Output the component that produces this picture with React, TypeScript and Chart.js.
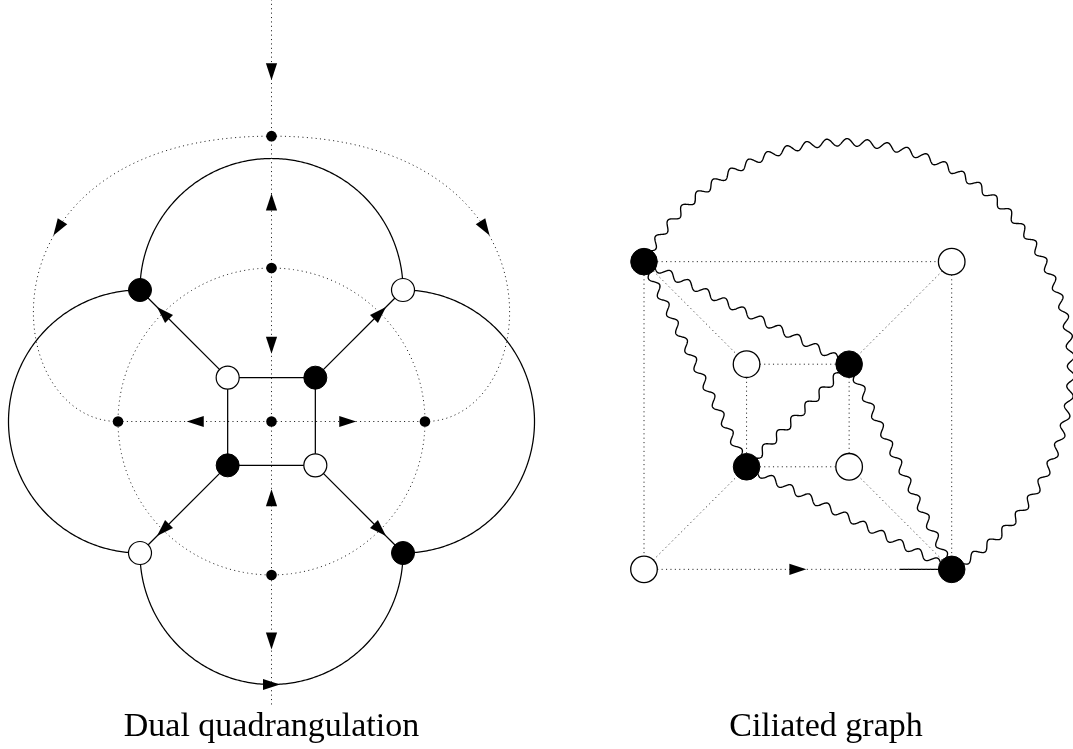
import React, { useEffect, useRef } from "react";
import { Chart, registerables } from "chart.js";

Chart.register(...registerables);

type P = [number, number];

// ================= DATA =================
// Left figure "Dual quadrangulation" — units: outer vertex offset = 1
const leftBlackNodes: P[] = [[-1, 1], [1 / 3, 1 / 3], [-1 / 3, -1 / 3], [1, -1]];
const leftWhiteNodes: P[] = [[1, 1], [-1 / 3, 1 / 3], [1 / 3, -1 / 3], [-1, -1]];
const leftDualDots: P[] = [[0, 2.17], [0, 1.167], [-1.167, 0], [0, 0], [1.167, 0], [0, -1.167]];
const leftSolidEdges: P[][] = [
  [[-1 / 3, 1 / 3], [1 / 3, 1 / 3]],
  [[1 / 3, 1 / 3], [1 / 3, -1 / 3]],
  [[1 / 3, -1 / 3], [-1 / 3, -1 / 3]],
  [[-1 / 3, -1 / 3], [-1 / 3, 1 / 3]],
  [[-1 / 3, 1 / 3], [-1, 1]],
  [[1 / 3, 1 / 3], [1, 1]],
  [[-1 / 3, -1 / 3], [-1, -1]],
  [[1 / 3, -1 / 3], [1, -1]],
];
// [cx, cy, r, startDeg, endDeg]
const leftSolidArcs: number[][] = [
  [0, 1, 1, 180, 0],
  [-1, 0, 1, 90, 270],
  [1, 0, 1, 90, -90],
  [0, -1, 1, 180, 360],
];
const leftDottedLines: P[][] = [
  [[0, 3.21], [0, -2.156]],
  [[-1.167, 0], [1.167, 0]],
];
const leftDottedCircles: number[][] = [[0, 0, 1.167]];
const leftDottedBeziers: P[][] = [
  [[0, 2.17], [-2.285, 2.17], [-2.08, 0], [-1.167, 0]],
  [[0, 2.17], [2.285, 2.17], [2.08, 0], [1.167, 0]],
];
// [x, y, dirX, dirY]
const leftLineArrows: number[][] = [
  [0, 2.66, 0, -1],
  [0, 1.67, 0, 1],
  [0, 0.58, 0, -1],
  [0, -0.58, 0, 1],
  [0, -1.67, 0, -1],
  [-0.58, 0, -1, 0],
  [0.58, 0, 1, 0],
  [-0.825, 0.825, -1, 1],
  [0.825, 0.825, 1, 1],
  [-0.825, -0.825, -1, -1],
  [0.825, -0.825, 1, -1],
  [0, -2, 1, 0],
];
const leftBezierArrowT: number[] = [0.38, 0.38];

// Right figure "Ciliated graph" — units: outer square half side = 1
const rightBlackNodes: P[] = [[-1, 1], [1 / 3, 1 / 3], [-1 / 3, -1 / 3], [1, -1]];
const rightWhiteNodes: P[] = [[1, 1], [-1 / 3, 1 / 3], [1 / 3, -1 / 3], [-1, -1]];
const rightDottedEdges: P[][] = [
  [[-1, 1], [1, 1]],
  [[-1, 1], [-1, -1]],
  [[1, 1], [1, -1]],
  [[-1, -1], [1, -1]],
  [[-1 / 3, 1 / 3], [1 / 3, 1 / 3]],
  [[-1 / 3, 1 / 3], [-1 / 3, -1 / 3]],
  [[1 / 3, 1 / 3], [1 / 3, -1 / 3]],
  [[-1 / 3, -1 / 3], [1 / 3, -1 / 3]],
  [[-1, 1], [-1 / 3, 1 / 3]],
  [[1, 1], [1 / 3, 1 / 3]],
  [[-1, -1], [-1 / 3, -1 / 3]],
  [[1, -1], [1 / 3, -1 / 3]],
];
const rightWavyEdges: P[][] = [
  [[-1, 1], [1 / 3, 1 / 3]],
  [[-1, 1], [-1 / 3, -1 / 3]],
  [[1 / 3, 1 / 3], [-1 / 3, -1 / 3]],
  [[1 / 3, 1 / 3], [1, -1]],
  [[-1 / 3, -1 / 3], [1, -1]],
];
// [cx, cy, r, startDeg, endDeg]
const rightWavyArcs: number[][] = [[0.3, 0.3, 1.476, 151.7, -61.7]];
const rightSolidEdges: P[][] = [[[0.664, -1], [1, -1]]];
const rightLineArrows: number[][] = [[0, -1, 1, 0]];

const captions: string[] = ["Dual quadrangulation", "Ciliated graph"];

// ================= LAYOUT / STYLE =================
const W = 1073;
const H = 749;
const LEFT_ORIGIN: P = [271.5, 421.5];
const LEFT_UNIT = 131.5;
const RIGHT_ORIGIN: P = [797.85, 415.5];
const RIGHT_UNIT = 153.85;
const CAPTION_X = [271.5, 826];
const CAPTION_TOP = 707.5;

const DOT_COLOR = "#262626";
const DOT_DASH = [1.1, 3.3];
const SOLID_W = 1.25;
const LEFT_NODE_R = 11.5;
const LEFT_DOT_R = 5.3;
const RIGHT_NODE_R = 13.3;
const WAVE_AMP = 3.7;
const WAVE_PERIOD = 20;
const ARROW_LEN = 17;
const ARROW_HALF_W = 5.6;

const pts = (arr: P[]) => arr.map(([x, y]) => ({ x, y }));

function nodeDataset(arr: P[], side: string, fill: string, radius: number, border: number) {
  return {
    data: pts(arr),
    xAxisID: "x" + side,
    yAxisID: "y" + side,
    showLine: false,
    pointRadius: radius,
    pointHoverRadius: radius,
    pointBackgroundColor: fill,
    pointBorderColor: "#000",
    pointBorderWidth: border,
    order: 1,
  };
}

function edgeDataset(seg: P[], side: string, dotted: boolean) {
  return {
    data: pts(seg),
    xAxisID: "x" + side,
    yAxisID: "y" + side,
    showLine: true,
    pointRadius: 0,
    pointHoverRadius: 0,
    borderColor: dotted ? DOT_COLOR : "#000",
    borderWidth: dotted ? 1 : SOLID_W,
    borderDash: dotted ? DOT_DASH : [],
    fill: false,
    tension: 0,
    order: 5,
  };
}

function arcPoints(map: (x: number, y: number) => number[], cx: number, cy: number, r: number, a0: number, a1: number, n: number) {
  const out: number[][] = [];
  for (let i = 0; i <= n; i++) {
    const a = ((a0 + ((a1 - a0) * i) / n) * Math.PI) / 180;
    out.push(map(cx + r * Math.cos(a), cy + r * Math.sin(a)));
  }
  return out;
}

function strokePolyline(ctx: CanvasRenderingContext2D, p: number[][]) {
  ctx.beginPath();
  ctx.moveTo(p[0][0], p[0][1]);
  for (let i = 1; i < p.length; i++) ctx.lineTo(p[i][0], p[i][1]);
  ctx.stroke();
}

function wavy(ctx: CanvasRenderingContext2D, path: number[][], trim: number, amp: number, period: number) {
  const cum = [0];
  for (let i = 1; i < path.length; i++) {
    cum.push(cum[i - 1] + Math.hypot(path[i][0] - path[i - 1][0], path[i][1] - path[i - 1][1]));
  }
  const total = cum[cum.length - 1];
  const s0 = trim;
  const len = total - 2 * trim;
  if (len <= 0) return;
  const waves = Math.max(1, Math.round(len / period));
  const lam = len / waves;
  const steps = Math.ceil(len / 0.5);
  let seg = 0;
  ctx.beginPath();
  for (let k = 0; k <= steps; k++) {
    const s = s0 + (len * k) / steps;
    while (seg < path.length - 2 && cum[seg + 1] < s) seg++;
    const [x0, y0] = path[seg];
    const [x1, y1] = path[seg + 1];
    const sl = cum[seg + 1] - cum[seg] || 1;
    const u = (s - cum[seg]) / sl;
    const ux = (x1 - x0) / sl;
    const uy = (y1 - y0) / sl;
    const off = amp * Math.sin((2 * Math.PI * (s - s0)) / lam);
    const px = x0 + (x1 - x0) * u - uy * off;
    const py = y0 + (y1 - y0) * u + ux * off;
    if (k === 0) ctx.moveTo(px, py);
    else ctx.lineTo(px, py);
  }
  ctx.stroke();
}

function arrowHead(ctx: CanvasRenderingContext2D, x: number, y: number, dx: number, dy: number) {
  const n = Math.hypot(dx, dy) || 1;
  const ux = dx / n;
  const uy = dy / n;
  const vx = -uy;
  const vy = ux;
  const tx = x + (ux * ARROW_LEN) / 2;
  const ty = y + (uy * ARROW_LEN) / 2;
  const bx = x - (ux * ARROW_LEN) / 2;
  const by = y - (uy * ARROW_LEN) / 2;
  ctx.beginPath();
  ctx.moveTo(tx, ty);
  ctx.lineTo(bx + vx * ARROW_HALF_W, by + vy * ARROW_HALF_W);
  ctx.lineTo(bx - vx * ARROW_HALF_W, by - vy * ARROW_HALF_W);
  ctx.closePath();
  ctx.fill();
}

function mappers(chart: any) {
  const L = (x: number, y: number) => [chart.scales.xL.getPixelForValue(x), chart.scales.yL.getPixelForValue(y)];
  const R = (x: number, y: number) => [chart.scales.xR.getPixelForValue(x), chart.scales.yR.getPixelForValue(y)];
  return { L, R };
}

const diagramPlugin = {
  id: "diagram",
  beforeDatasetsDraw(chart: any) {
    const ctx: CanvasRenderingContext2D = chart.ctx;
    const { L, R } = mappers(chart);
    ctx.save();
    // solid semicircles
    ctx.strokeStyle = "#000";
    ctx.lineWidth = SOLID_W;
    ctx.setLineDash([]);
    for (const [cx, cy, r, a0, a1] of leftSolidArcs) strokePolyline(ctx, arcPoints(L, cx, cy, r, a0, a1, 240));
    // dotted circle and curves
    ctx.strokeStyle = DOT_COLOR;
    ctx.lineWidth = 1;
    ctx.setLineDash(DOT_DASH);
    for (const [cx, cy, r] of leftDottedCircles) strokePolyline(ctx, arcPoints(L, cx, cy, r, 90, 450, 480));
    for (const b of leftDottedBeziers) {
      const q = b.map(([x, y]) => L(x, y));
      ctx.beginPath();
      ctx.moveTo(q[0][0], q[0][1]);
      ctx.bezierCurveTo(q[1][0], q[1][1], q[2][0], q[2][1], q[3][0], q[3][1]);
      ctx.stroke();
    }
    // wavy edges
    ctx.setLineDash([]);
    ctx.strokeStyle = "#000";
    ctx.lineWidth = 1.35;
    for (const [a, b] of rightWavyEdges) wavy(ctx, [R(a[0], a[1]), R(b[0], b[1])], RIGHT_NODE_R - 1, WAVE_AMP, WAVE_PERIOD);
    for (const [cx, cy, r, a0, a1] of rightWavyArcs) {
      wavy(ctx, arcPoints(R, cx, cy, r, a0, a1, 800), RIGHT_NODE_R - 1, WAVE_AMP, WAVE_PERIOD);
    }
    ctx.restore();
  },
  afterDatasetsDraw(chart: any) {
    const ctx: CanvasRenderingContext2D = chart.ctx;
    const { L, R } = mappers(chart);
    ctx.save();
    ctx.fillStyle = "#000";
    const lineArrow = (map: (x: number, y: number) => number[], a: number[]) => {
      const p = map(a[0], a[1]);
      const q = map(a[0] + a[2] * 0.01, a[1] + a[3] * 0.01);
      arrowHead(ctx, p[0], p[1], q[0] - p[0], q[1] - p[1]);
    };
    for (const a of leftLineArrows) lineArrow(L, a);
    for (const a of rightLineArrows) lineArrow(R, a);
    leftDottedBeziers.forEach((b, i) => {
      const t = leftBezierArrowT[i];
      const q = b.map(([x, y]) => L(x, y));
      const mt = 1 - t;
      const x = mt * mt * mt * q[0][0] + 3 * mt * mt * t * q[1][0] + 3 * mt * t * t * q[2][0] + t * t * t * q[3][0];
      const y = mt * mt * mt * q[0][1] + 3 * mt * mt * t * q[1][1] + 3 * mt * t * t * q[2][1] + t * t * t * q[3][1];
      const dx = 3 * mt * mt * (q[1][0] - q[0][0]) + 6 * mt * t * (q[2][0] - q[1][0]) + 3 * t * t * (q[3][0] - q[2][0]);
      const dy = 3 * mt * mt * (q[1][1] - q[0][1]) + 6 * mt * t * (q[2][1] - q[1][1]) + 3 * t * t * (q[3][1] - q[2][1]);
      arrowHead(ctx, x, y, dx, dy);
    });
    ctx.restore();
  },
};

export default function App() {
  const ref = useRef<HTMLCanvasElement>(null);

  useEffect(() => {
    if (!ref.current) return;
    const datasets: any[] = [
      nodeDataset(leftBlackNodes, "L", "#000", LEFT_NODE_R, 1),
      nodeDataset(leftWhiteNodes, "L", "#fff", LEFT_NODE_R, 1.2),
      nodeDataset(leftDualDots, "L", "#000", LEFT_DOT_R, 0),
      nodeDataset(rightBlackNodes, "R", "#000", RIGHT_NODE_R, 1),
      nodeDataset(rightWhiteNodes, "R", "#fff", RIGHT_NODE_R, 1.3),
      ...leftSolidEdges.map((s) => edgeDataset(s, "L", false)),
      ...leftDottedLines.map((s) => edgeDataset(s, "L", true)),
      ...rightDottedEdges.map((s) => edgeDataset(s, "R", true)),
      ...rightSolidEdges.map((s) => edgeDataset(s, "R", false)),
    ];
    const chart = new Chart(ref.current, {
      type: "scatter",
      data: { datasets },
      options: {
        responsive: false,
        animation: false,
        events: [],
        layout: { padding: 0, autoPadding: false },
        plugins: { legend: { display: false }, tooltip: { enabled: false }, title: { display: false } },
        scales: {
          xL: {
            type: "linear",
            axis: "x",
            position: "bottom",
            display: false,
            min: -LEFT_ORIGIN[0] / LEFT_UNIT,
            max: (W - LEFT_ORIGIN[0]) / LEFT_UNIT,
          },
          yL: {
            type: "linear",
            axis: "y",
            position: "left",
            display: false,
            min: -(H - LEFT_ORIGIN[1]) / LEFT_UNIT,
            max: LEFT_ORIGIN[1] / LEFT_UNIT,
          },
          xR: {
            type: "linear",
            axis: "x",
            position: "bottom",
            display: false,
            min: -RIGHT_ORIGIN[0] / RIGHT_UNIT,
            max: (W - RIGHT_ORIGIN[0]) / RIGHT_UNIT,
          },
          yR: {
            type: "linear",
            axis: "y",
            position: "left",
            display: false,
            min: -(H - RIGHT_ORIGIN[1]) / RIGHT_UNIT,
            max: RIGHT_ORIGIN[1] / RIGHT_UNIT,
          },
        },
      } as any,
      plugins: [diagramPlugin as any],
    });
    return () => chart.destroy();
  }, []);

  return (
    <div style={{ position: "fixed", left: 0, top: 0, width: W, height: H, background: "#fff", overflow: "hidden" }}>
      <canvas ref={ref} width={W} height={H} style={{ position: "absolute", left: 0, top: 0, width: W, height: H }} />
      {captions.map((c, i) => (
        <div
          key={c}
          style={{
            position: "absolute",
            left: CAPTION_X[i],
            top: CAPTION_TOP,
            transform: "translateX(-50%)",
            whiteSpace: "nowrap",
            fontFamily: "'Liberation Serif', serif",
            fontSize: 34,
            lineHeight: "34px",
            color: "#000",
          }}
        >
          {c}
        </div>
      ))}
    </div>
  );
}
